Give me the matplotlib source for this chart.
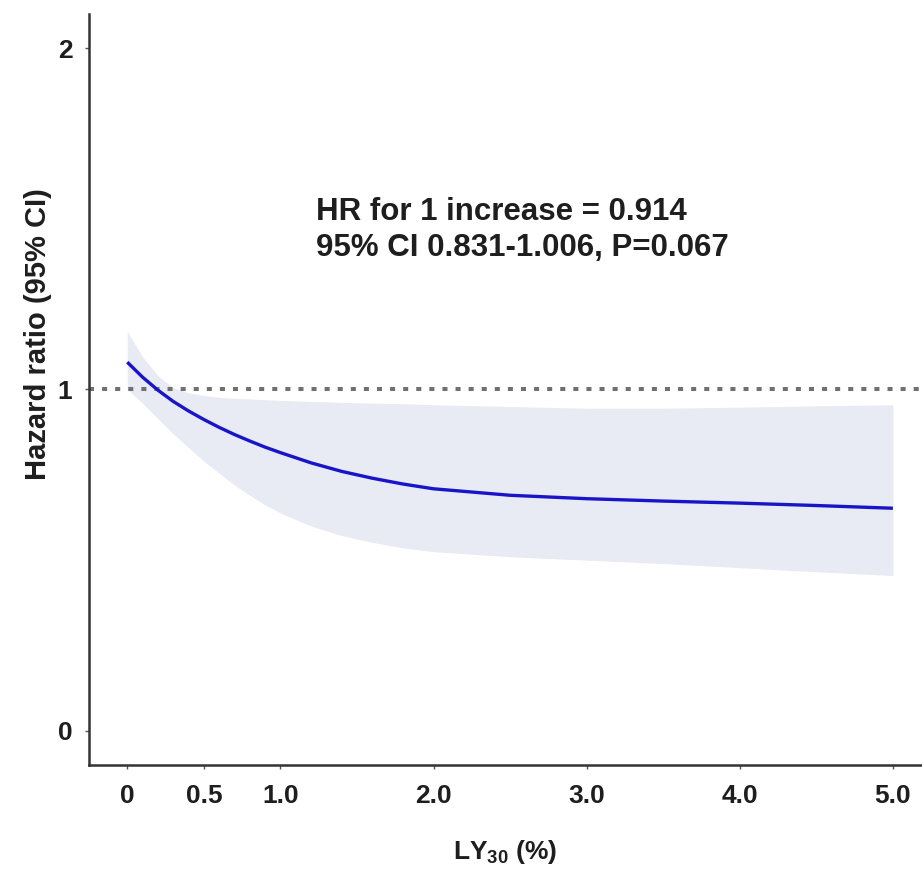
import matplotlib
matplotlib.use('Agg')
import matplotlib.pyplot as plt
import numpy as np

plt.rcParams['font.family'] = ['Liberation Sans', 'DejaVu Sans']
plt.rcParams['font.weight'] = 'bold'
plt.rcParams['mathtext.fontset'] = 'custom'
plt.rcParams['mathtext.rm'] = 'Liberation Sans:bold'
plt.rcParams['mathtext.bf'] = 'Liberation Sans:bold'

# Data
ly30 = [0, 0.1, 0.2, 0.3, 0.4, 0.5, 0.6, 0.7, 0.8, 0.9, 1.0, 1.2, 1.4, 1.6, 1.8, 2.0,
        2.5, 3.0, 3.5, 4.0, 4.5, 5.0]
hr = [1.08, 1.036, 0.998, 0.965, 0.937, 0.912, 0.889, 0.868, 0.849, 0.831, 0.815, 0.785,
      0.76, 0.74, 0.723, 0.709, 0.69, 0.68, 0.673, 0.667, 0.66, 0.652]
ci_upper = [1.17, 1.095, 1.04, 1.005, 0.99, 0.982, 0.977, 0.974, 0.972, 0.97, 0.968, 0.965,
            0.962, 0.96, 0.958, 0.955, 0.95, 0.945, 0.945, 0.948, 0.952, 0.955]
ci_lower = [1.0, 0.96, 0.915, 0.87, 0.83, 0.79, 0.755, 0.72, 0.69, 0.662, 0.638, 0.6,
            0.572, 0.552, 0.536, 0.525, 0.51, 0.5, 0.49, 0.478, 0.466, 0.455]

xticks = [0, 0.5, 1.0, 2.0, 3.0, 4.0, 5.0]
xticklabels = ['0', '0.5', '1.0', '2.0', '3.0', '4.0', '5.0']
yticks = [0, 1, 2]
ref_line = 1

fig = plt.figure(figsize=(9.22, 8.69), dpi=100)
ax = fig.add_axes([0.0965, 0.1197, 0.9035, 0.8643])

ax.fill_between(ly30, ci_lower, ci_upper, color='#E8EAF4', lw=0)
ax.axhline(ref_line, color='#707070', lw=2.9, linestyle=(0, (1.25, 2.0)))
ax.plot(ly30, hr, color='#1A14C8', lw=2.4, solid_capstyle='butt')

ax.text(1.23, 1.52, 'HR for 1 increase = 0.914', fontsize=22.5, fontweight='bold',
        va='center', ha='left', color='#1E1E1E')
ax.text(1.23, 1.414, '95% CI 0.831-1.006, P=0.067', fontsize=22.5, fontweight='bold',
        va='center', ha='left', color='#1E1E1E')

ax.set_xlim(-0.25, 5.19)
ax.set_ylim(-0.1, 2.1)
ax.set_xticks(xticks)
ax.set_xticklabels(xticklabels)
ax.set_yticks(yticks)

for side in ['top', 'right']:
    ax.spines[side].set_visible(False)
for side in ['left', 'bottom']:
    ax.spines[side].set_color('#333333')
    ax.spines[side].set_linewidth(1.8)

ax.tick_params(axis='both', length=3, width=1, color='#555555', labelsize=19,
               labelcolor='#1E1E1E')
ax.tick_params(axis='x', pad=11)
ax.tick_params(axis='y', pad=9)

ax.set_xlabel(r'LY$_{\mathbf{30}}$ (%)', fontsize=19, fontweight='bold', color='#1E1E1E')
ax.set_ylabel('Hazard ratio (95% CI)', fontsize=21, fontweight='bold', color='#1E1E1E')
ax.xaxis.set_label_coords(0.5, -0.097)
ax.yaxis.set_label_coords(-0.044, 0.574)

fig.savefig('out.png', dpi=100)
